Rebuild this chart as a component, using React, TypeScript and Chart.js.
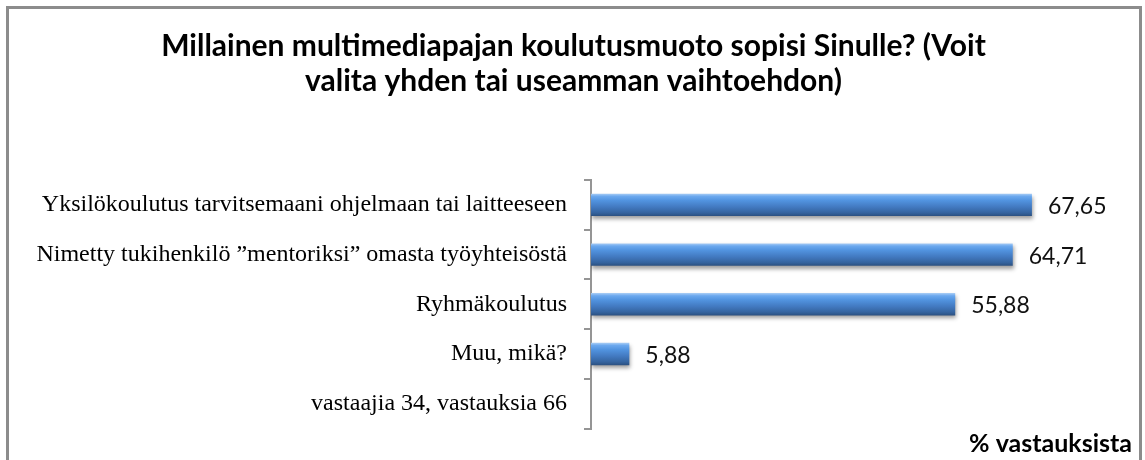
import React, { useEffect, useRef } from "react";
import { Chart, registerables } from "chart.js";

Chart.register(...registerables);

const titleLines = [
  "Millainen multimediapajan koulutusmuoto sopisi Sinulle? (Voit",
  "valita yhden tai useamman vaihtoehdon)",
];
const categories = [
  "Yksilökoulutus tarvitsemaani ohjelmaan tai laitteeseen",
  "Nimetty tukihenkilö ”mentoriksi” omasta työyhteisöstä",
  "Ryhmäkoulutus",
  "Muu, mikä?",
  "vastaajia 34, vastauksia 66",
];
const values: (number | null)[] = [67.65, 64.71, 55.88, 5.88, null];
const axisTitle = "% vastauksista";
const xMax = 85;

const BAR_PCT = 0.45;

export default function App() {
  const ref = useRef<HTMLCanvasElement | null>(null);

  useEffect(() => {
    if (!ref.current) return;

    const decor = {
      id: "decor",
      beforeDatasetsDraw(chart: any) {
        const c = chart.ctx;
        c.save();
        c.shadowColor = "rgba(0,0,0,0.38)";
        c.shadowBlur = 4;
        c.shadowOffsetX = 1;
        c.shadowOffsetY = 3;
      },
      afterDatasetsDraw(chart: any) {
        const c = chart.ctx;
        c.restore();
        c.save();
        const meta = chart.getDatasetMeta(0);
        c.font = "23px Lato";
        c.fillStyle = "#111";
        c.textAlign = "left";
        c.textBaseline = "middle";
        meta.data.forEach((el: any, i: number) => {
          const v = values[i];
          if (v === null || v === undefined) return;
          c.fillText(v.toFixed(2).replace(".", ","), el.x + 16, el.y + 1.5);
        });
        c.font = "bold 25px Lato";
        c.textAlign = "right";
        c.textBaseline = "alphabetic";
        c.fillStyle = "#000";
        c.fillText(axisTitle, 1130, 452);
        c.restore();
      },
    };

    const chart = new Chart(ref.current, {
      type: "bar",
      data: {
        labels: categories,
        datasets: [
          {
            data: values,
            borderWidth: 0,
            barPercentage: BAR_PCT,
            categoryPercentage: 1,
            backgroundColor: (ctx: any) => {
              const ch = ctx.chart;
              const sc = ch.scales && ch.scales.y;
              if (!sc || ctx.dataIndex === undefined || !ch.chartArea) return "#4f81bd";
              const yc = sc.getPixelForValue(ctx.dataIndex);
              const band = sc.height / categories.length;
              const h = band * BAR_PCT;
              const g = ch.ctx.createLinearGradient(0, yc - h / 2, 0, yc + h / 2);
              g.addColorStop(0, "#a9cdf5");
              g.addColorStop(0.12, "#6ba8ee");
              g.addColorStop(0.3, "#5294e0");
              g.addColorStop(0.6, "#4279c0");
              g.addColorStop(0.85, "#35649f");
              g.addColorStop(1, "#2b5080");
              return g;
            },
          },
        ],
      },
      options: {
        indexAxis: "y",
        responsive: false,
        animation: false,
        layout: { padding: { left: 0, right: 0, top: 0, bottom: 27 } },
        plugins: {
          legend: { display: false },
          tooltip: { enabled: false },
          title: {
            display: true,
            text: titleLines,
            color: "#000",
            font: { family: "Lato", size: 30, weight: "bold", lineHeight: "35px" },
            padding: { top: 29, bottom: 81 },
          },
        },
        scales: {
          x: { display: false, min: 0, max: xMax },
          y: {
            z: 1,
            grid: {
              display: true,
              drawOnChartArea: false,
              drawTicks: true,
              tickLength: 7,
              offset: true,
              color: "#959595",
              tickColor: "#959595",
              lineWidth: 2,
            },
            border: { display: true, color: "#959595", width: 2 },
            ticks: {
              autoSkip: false,
              padding: 17,
              color: "#000",
              font: { family: "Liberation Serif", size: 24 },
            },
            afterFit: (s: any) => {
              s.width = 589;
            },
          },
        },
      },
      plugins: [decor],
    } as any);

    return () => chart.destroy();
  }, []);

  return (
    <div
      style={{
        position: "fixed",
        left: 0,
        top: 0,
        width: 1145,
        height: 460,
        overflow: "hidden",
        background: "#fff",
      }}
    >
      <div
        style={{
          position: "absolute",
          left: 6,
          top: 6,
          width: 1136,
          height: 480,
          boxSizing: "border-box",
          border: "3px solid #8c8c8c",
        }}
      />
      <canvas
        ref={ref}
        width={1143}
        height={460}
        style={{ position: "absolute", left: 2, top: 0, width: 1143, height: 460 }}
      />
    </div>
  );
}
